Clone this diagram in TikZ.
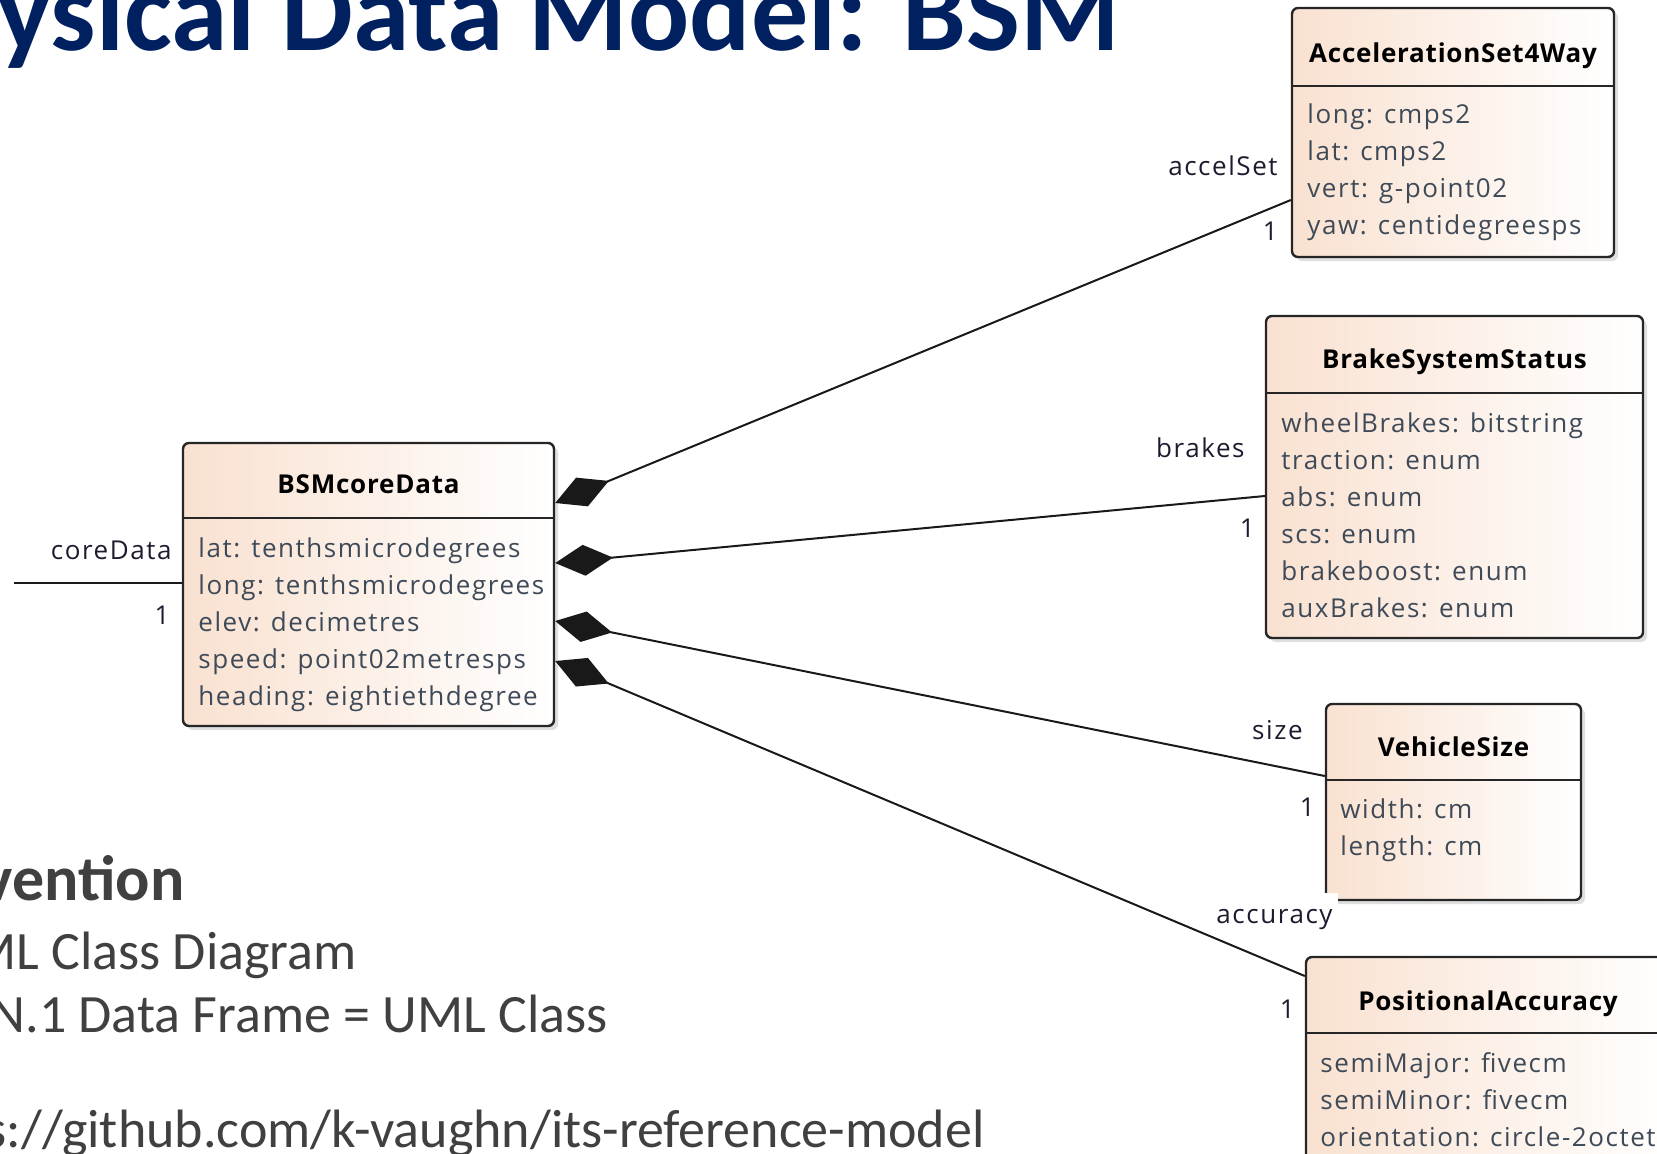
\documentclass[tikz,border=0pt]{standalone}
\usepackage{fontspec}
\setmainfont{Open Sans}
\newfontfamily\umlfont[LetterSpace=6]{Open Sans}
\newfontfamily\umltitlefont[LetterSpace=3]{Open Sans}
\newfontfamily\slidefont{Carlito}
\usetikzlibrary{arrows.meta,shadows,fit}

\definecolor{titleblue}{RGB}{0,32,96}
\definecolor{slidegrey}{RGB}{64,64,64}
\definecolor{peach}{RGB}{249,225,208}
\definecolor{attrgrey}{RGB}{62,74,88}
\definecolor{labelink}{RGB}{28,28,48}

\tikzset{
  cls/.style={draw=black!85, line width=1.2pt, rounded corners=3pt,
    left color=peach, right color=white, inner sep=0pt,
    drop shadow={opacity=0.25, shadow xshift=2pt, shadow yshift=-2pt}},
  sepline/.style={draw=black!85, line width=1.2pt},
  clsname/.style={font=\umltitlefont\fontsize{13}{15}\selectfont\bfseries, text=black, anchor=base, inner sep=0pt},
  attr/.style={font=\umlfont\fontsize{13}{15}\selectfont, text=attrgrey, anchor=base west, inner sep=0pt},
  role/.style={font=\umlfont\fontsize{13}{15}\selectfont, text=labelink, anchor=base east, inner sep=0pt},
  comp/.style={line width=1pt, draw=black!90, {Diamond[length=29pt,width=15.5pt]}-},
  slide/.style={font=\slidefont\fontsize{27}{33}\selectfont, text=slidegrey, anchor=base east, inner sep=0pt},
}

\begin{document}
\begin{tikzpicture}[x=0.5pt,y=-0.5pt]
\useasboundingbox (0,0) rectangle (1657,1153);
\clip (0,0) rectangle (1657,1153);

% slide text
\node[font=\slidefont\fontsize{57}{62}\selectfont\bfseries, text=titleblue, anchor=base east, inner sep=0pt] (title) at (1120,50) {ysical Data Model: BSM};
\node[slide, font=\slidefont\fontsize{32}{38}\selectfont\bfseries] (conv) at (185,900) {vention};
\node[slide] (conv1) at (357,969) {ML Class Diagram};
\node[slide] (conv2) at (608,1032) {N.1 Data Frame = UML Class};
\node[slide] (url) at (985,1147) {s://github.com/k-vaughn/its-reference-model};

% classes
\node[cls, fit={(183,443) (554,726)}] (bsm) {};
\draw[sepline] (bsm.west |- 0,518) -- (bsm.east |- 0,518);
\node[clsname] (bsmT) at (368.5,493) {BSMcoreData};
\foreach \t [count=\i from 0] in {lat: tenthsmicrodegrees, long: tenthsmicrodegrees, elev: decimetres, speed: point02metresps, heading: eightiethdegree}
  \node[attr] (bsm-\i) at (198,557+37*\i) {\t};

\node[cls, fit={(1292,8) (1614,257)}] (accel) {};
\draw[sepline] (accel.west |- 0,86) -- (accel.east |- 0,86);
\node[clsname] (accelT) at (1453,62) {AccelerationSet4Way};
\foreach \t [count=\i from 0] in {long: cmps2, lat: cmps2, vert: g-point02, yaw: centidegreesps}
  \node[attr] (accel-\i) at (1307,123+37*\i) {\t};

\node[cls, fit={(1266,316) (1643,638)}] (brake) {};
\draw[sepline] (brake.west |- 0,393) -- (brake.east |- 0,393);
\node[clsname] (brakeT) at (1454.5,368) {BrakeSystemStatus};
\foreach \t [count=\i from 0] in {wheelBrakes: bitstring, traction: enum, abs: enum, scs: enum, brakeboost: enum, auxBrakes: enum}
  \node[attr] (brake-\i) at (1281,432+37*\i) {\t};

\node[cls, fit={(1326,704) (1581,900)}] (size) {};
\draw[sepline] (size.west |- 0,780) -- (size.east |- 0,780);
\node[clsname] (sizeT) at (1453.5,756) {VehicleSize};
\foreach \t [count=\i from 0] in {width: cm, length: cm}
  \node[attr] (size-\i) at (1340,818+37*\i) {\t};

\node[cls, fit={(1306,957) (1670,1220)}] (acc) {};
\draw[sepline] (acc.west |- 0,1033) -- (acc.east |- 0,1033);
\node[clsname] (accT) at (1488,1010) {PositionalAccuracy};
\foreach \t [count=\i from 0] in {semiMajor: fivecm, semiMinor: fivecm, orientation: circle-2octet}
  \node[attr] (acc-\i) at (1320,1072+37*\i) {\t};

% role names and multiplicities
\node[role] (accelR) at (1278,175) {accelSet};
\node[role] (accelM) at (1278,240) {1};
\node[role] (brakeR) at (1245,457) {brakes};
\node[role] (brakeM) at (1255,537) {1};
\node[role] (coreR) at (172,559) {coreData};
\node[role] (coreM) at (170,624) {1};
\node[role] (sizeR) at (1303,739) {size};
\node[role] (sizeM) at (1315,816) {1};
\node[role, fill=white, text height=15pt, inner xsep=2.5pt] (accR) at (1338,923) {accuracy};
\node[role] (accM) at (1295,1018) {1};

% associations
\coordinate (coreEnd) at (14,583);
\draw[line width=1pt, draw=black!90] (coreEnd) -- (bsm.west |- coreEnd);
\draw[comp] (bsm.east |- 0,503) -- (accel.west |- 0,200);
\draw[comp] (bsm.east |- 0,563) -- (brake.west |- 0,496);
\draw[comp] (bsm.east |- 0,621) -- (size.west |- 0,776);
\draw[comp] (bsm.east |- 0,661) -- (acc.west |- 0,976);
\end{tikzpicture}
\end{document}
